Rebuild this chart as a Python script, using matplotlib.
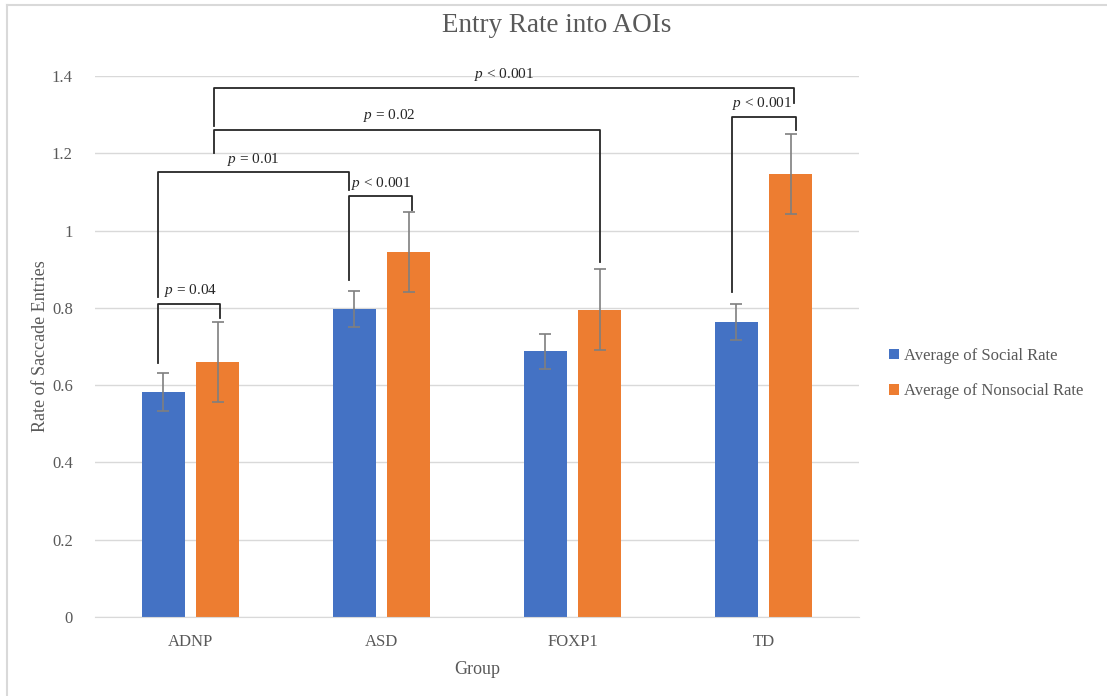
import numpy as np
import matplotlib
matplotlib.use("Agg")
import matplotlib.pyplot as plt
from matplotlib.lines import Line2D

plt.rcParams['font.family'] = ['Liberation Serif', 'DejaVu Serif']
plt.rcParams['mathtext.fontset'] = 'custom'
plt.rcParams['mathtext.rm'] = 'Liberation Serif'
plt.rcParams['mathtext.it'] = 'Liberation Serif:italic'

# data
groups = ['ADNP', 'ASD', 'FOXP1', 'TD']
social = [0.582, 0.797, 0.688, 0.763]
social_err = [0.050, 0.047, 0.045, 0.047]
nonsocial = [0.660, 0.945, 0.795, 1.147]
nonsocial_err = [0.104, 0.103, 0.105, 0.103]

# significance brackets: (x_left, x_right, y_bar, y_left_end, y_right_end, label, label_x, label_y)
brackets = [
    (-0.17, 0.154, 0.810, 0.657, 0.774, r'$\it{p}$ = 0.04', 0.00, 0.846),
    (-0.17, 0.830, 1.152, 0.828, 1.105, r'$\it{p}$ = 0.01', 0.33, 1.183),
    (0.830, 1.160, 1.090, 0.872, 1.053, r'$\it{p}$ < 0.001', 1.00, 1.123),
    (0.123, 2.144, 1.260, 1.201, 0.919, r'$\it{p}$ = 0.02', 1.04, 1.299),
    (0.123, 3.160, 1.369, 1.271, 1.330, r'$\it{p}$ < 0.001', 1.64, 1.403),
    (2.835, 3.170, 1.294, 0.841, 1.260, r'$\it{p}$ < 0.001', 2.99, 1.330),
]

blue = '#4472c4'
orange = '#ed7d31'
grey_txt = '#595959'

fig = plt.figure(figsize=(11.07, 6.96), dpi=100)
ax = fig.add_axes([95 / 1107, 79 / 696, 764 / 1107, 541 / 696])

x = np.arange(len(groups))
w = 0.225
off = 0.143
ax.bar(x - off, social, w, color=blue, label='Average of Social Rate', zorder=2)
ax.bar(x + off, nonsocial, w, color=orange, label='Average of Nonsocial Rate', zorder=2)
ax.errorbar(x - off, social, yerr=social_err, fmt='none', ecolor='#7f7f7f',
            elinewidth=1.2, capsize=4.5, capthick=1.2, zorder=3)
ax.errorbar(x + off, nonsocial, yerr=nonsocial_err, fmt='none', ecolor='#7f7f7f',
            elinewidth=1.2, capsize=4.5, capthick=1.2, zorder=3)

for xl, xr, yb, yl, yr, lab, tx, ty in brackets:
    ax.plot([xl, xl, xr, xr], [yl, yb, yb, yr], color='#262626', lw=1.3,
            zorder=4, clip_on=False)
    ax.text(tx, ty, lab, ha='center', va='center', fontsize=11, color='#262626')

ax.set_xlim(-0.5, 3.5)
ax.set_ylim(0, 1.4)
ax.set_yticks(np.arange(0, 1.41, 0.2))
ax.set_yticklabels(['0', '0.2', '0.4', '0.6', '0.8', '1', '1.2', '1.4'])
ax.set_xticks(x)
ax.set_xticklabels(groups)
ax.yaxis.grid(True, color='#d9d9d9', lw=1)
ax.set_axisbelow(True)
for s in ['top', 'right', 'left']:
    ax.spines[s].set_visible(False)
ax.spines['bottom'].set_color('#d9d9d9')
ax.tick_params(axis='both', length=0, labelsize=12, colors=grey_txt)
ax.tick_params(axis='y', pad=16)
ax.tick_params(axis='x', pad=12)

ax.set_xlabel('Group', fontsize=13, color=grey_txt, labelpad=8)
ax.set_ylabel('Rate of Saccade Entries', fontsize=13, color=grey_txt, labelpad=2)
fig.text(557 / 1107, 1 - 26 / 696, 'Entry Rate into AOIs', ha='center', va='center',
         fontsize=19.5, color=grey_txt)

leg = ax.legend(loc='center left', bbox_to_anchor=(1.02, 0.45), frameon=False,
                fontsize=12, handlelength=0.6, handleheight=0.6, handletextpad=0.3,
                labelspacing=1.15)
for t in leg.get_texts():
    t.set_color(grey_txt)

# outer chart border
fig.add_artist(Line2D([7 / 1107, 1], [1 - 5 / 696, 1 - 5 / 696], color='#d9d9d9', lw=1.5))
fig.add_artist(Line2D([7 / 1107, 7 / 1107], [0, 1 - 5 / 696], color='#d9d9d9', lw=1.5))

fig.savefig('out.png', dpi=100)
